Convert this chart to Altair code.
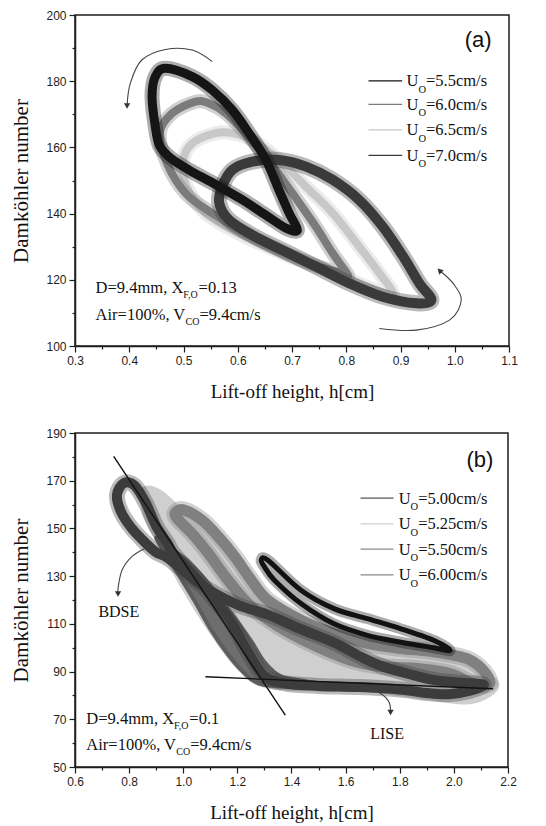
import altair as alt
import pandas as pd

# ======================= Panel (a) data =======================
A_LABELS = ["=5.5cm/s", "=6.0cm/s", "=6.5cm/s", "=7.0cm/s"]
A_COLORS = ["#151515", "#7b7b7b", "#c8c8c8", "#3a3a3a"]

a55_x = [0.467, 0.516, 0.553, 0.590, 0.621, 0.652, 0.676, 0.695, 0.710,
         0.689, 0.652, 0.608, 0.559, 0.512, 0.476, 0.456, 0.448, 0.442, 0.448]
a55_y = [183.9, 181.4, 177.3, 171.3, 164.2, 156.2, 147.1, 140.1, 135.0,
         135.6, 139.5, 144.2, 148.8, 153.0, 156.8, 160.5, 166.3, 175.3, 181.4]

a60_x = [0.479, 0.522, 0.547, 0.578, 0.615, 0.652, 0.701, 0.744, 0.775, 0.803,
         0.793, 0.750, 0.689, 0.615, 0.553, 0.504, 0.470, 0.456]
a60_y = [170.3, 173.8, 173.3, 170.3, 164.2, 157.2, 146.1, 136.0, 128.0, 121.5,
         122.0, 124.0, 128.0, 134.0, 140.1, 146.1, 155.0, 164.2]

a65_x = [0.516, 0.559, 0.590, 0.627, 0.676, 0.726, 0.775, 0.824, 0.861, 0.886,
         0.855, 0.775, 0.682, 0.602, 0.541, 0.506, 0.500]
a65_y = [161.2, 164.3, 164.3, 162.2, 156.2, 148.1, 140.1, 130.0, 122.0, 115.9,
         116.9, 122.0, 128.0, 134.0, 140.1, 148.1, 156.2]

a70_x = [0.571, 0.590, 0.627, 0.676, 0.726, 0.775, 0.824, 0.867, 0.905, 0.935, 0.957,
         0.929, 0.867, 0.806, 0.744, 0.682, 0.627, 0.584, 0.566]
a70_y = [148.1, 153.2, 155.7, 156.2, 154.2, 150.2, 144.1, 136.1, 127.0, 118.9, 113.9,
         112.9, 114.9, 118.9, 124.0, 129.0, 133.5, 138.1, 143.1]

# rotation arrows (a)
a_arr1_x = [0.553, 0.516, 0.467, 0.423, 0.402, 0.396]
a_arr1_y = [185.9, 189.4, 189.6, 186.4, 179.4, 172.5]
a_arr2_x = [0.861, 0.929, 0.991, 1.012, 0.997, 0.972]
a_arr2_y = [105.3, 104.8, 107.9, 113.9, 118.9, 122.8]

# ======================= Panel (b) data =======================
B_LABELS = ["=5.00cm/s", "=5.25cm/s", "=5.50cm/s", "=6.00cm/s"]
B_COLORS = ["#121212", "#cfcfcf", "#808080", "#3c3c3c"]

b500_x = [1.288, 1.313, 1.435, 1.557, 1.680, 1.802, 1.925, 1.986,
          1.925, 1.800, 1.680, 1.557, 1.435, 1.337, 1.300]
b500_y = [136.7, 136.7, 124.1, 116.4, 112.2, 108.0, 103.1, 98.9,
          100.0, 102.4, 105.2, 110.0, 118.5, 128.3, 133.9]

b525_x = [0.86, 0.92, 1.00, 1.10, 1.20, 1.30, 1.45, 1.60, 1.80, 2.00, 2.10, 2.16,
          2.13, 2.05, 1.90, 1.70, 1.50, 1.30, 1.20, 1.10, 1.00, 0.92, 0.86, 0.85]
b525_y = [167.0, 165.0, 157.0, 150.0, 138.0, 122.0, 111.0, 104.0, 99.0, 96.0, 91.0, 85.0,
          80.0, 77.0, 79.0, 82.0, 82.5, 84.0, 92.0, 107.0, 125.0, 142.0, 155.0, 163.0]

b550_x = [0.970, 1.000, 1.068, 1.129, 1.190, 1.251, 1.312, 1.435, 1.557, 1.680, 1.802, 1.925,
          2.047, 2.108, 2.132, 2.071, 1.986, 1.863, 1.741, 1.618, 1.496, 1.374, 1.251, 1.165,
          1.092, 1.031, 0.982]
b550_y = [156.4, 157.8, 153.6, 146.6, 138.2, 128.4, 120.0, 111.6, 106.0, 101.8, 99.7, 98.3,
          95.5, 90.6, 85.0, 85.0, 89.2, 91.3, 92.0, 94.8, 100.4, 107.4, 117.2, 128.4,
          139.6, 148.0, 153.6]

b600_x = [0.94, 0.90, 0.86, 0.82, 0.78, 0.755, 0.77, 0.81, 0.86, 0.90, 0.95, 1.07, 1.20, 1.31,
          1.43, 1.56, 1.66, 1.74, 1.85, 1.93, 2.03, 2.11, 2.06, 1.98, 1.90, 1.80, 1.65, 1.50,
          1.38, 1.30, 1.24, 1.17, 1.08, 1.00, 0.96]
b600_y = [144.0, 151.0, 161.0, 168.0, 169.0, 164.0, 157.0, 150.0, 144.0, 140.0, 137.0, 126.0,
          118.0, 114.0, 108.0, 102.0, 96.0, 92.0, 88.5, 86.4, 85.3, 84.5, 82.0, 80.5, 81.0,
          82.5, 83.5, 84.0, 85.0, 88.0, 98.0, 112.0, 125.0, 135.0, 140.0]

# dense hatched region of the U=6.00 series
b600m_x = [0.90, 0.97, 1.04, 1.10, 1.16, 1.22, 1.28, 1.40, 1.55,
           1.45, 1.36, 1.30, 1.25, 1.18, 1.10, 1.02, 0.96]
b600m_y = [146.0, 133.0, 120.0, 108.0, 98.0, 90.0, 85.0, 83.5, 83.5,
           86.0, 88.0, 94.0, 103.0, 114.0, 126.0, 136.0, 141.0]

# BDSE / LISE reference lines
bdse_x = [0.743, 1.377]
bdse_y = [180.2, 71.7]
lise_x = [1.082, 2.145]
lise_y = [87.8, 82.8]

# annotation arrows (b)
b_arr1_x = [0.86, 0.81, 0.774, 0.760, 0.759]
b_arr1_y = [141.7, 138.2, 132.6, 125.6, 122.5]
b_arr2_x = [1.68, 1.729, 1.760, 1.766]
b_arr2_y = [82.9, 80.8, 77.3, 72.8]

# ======================= layout constants =======================
SERIF = "Liberation Serif"
SANS = "Liberation Sans"
INK = "#1e1e1e"

A_W, A_H = 434, 331
B_W, B_H = 433, 334

TIMES_W = {"U": 722, "=": 564, ".": 250, "c": 444, "m": 778, "/": 278, "s": 389,
           "D": 722, ",": 250, " ": 250, "X": 722, "F": 556, "O": 722, "A": 722,
           "i": 278, "r": 333, "%": 833, "V": 722, "C": 667}


def text_w(s, size):
    return sum(TIMES_W.get(ch, 500) for ch in s) * size / 1000.0


def rich(x0, y0, parts, pxx, pxy):
    """parts: (text, size, dy_px, advance_fraction)"""
    recs = []
    dx = 0.0
    for text, size, dy, adv in parts:
        recs.append({"x": x0 + dx / pxx, "y": y0 - dy / pxy, "t": text, "s": size})
        dx += text_w(text, size) * adv
    return recs


def frame(xs, ys):
    return pd.DataFrame({"x": xs, "y": ys, "i": list(range(len(xs)))})


def tick_axis(values, major_test, fmt, title, is_x, title_pad):
    kw = dict(
        values=values,
        title=title,
        grid=False,
        labelExpr=f"({major_test}) ? format(datum.value, '{fmt}') : ''",
        tickSize={"condition": {"test": major_test, "value": 6}, "value": 3},
        tickColor=INK, tickWidth=1.2,
        domainColor=INK, domainWidth=1.5,
        labelFont=SANS, labelFontSize=12, labelColor=INK,
        titleFont=SERIF, titleFontWeight="normal", titleColor="#111",
        titlePadding=title_pad,
        labelPadding=3,
    )
    if is_x:
        kw["titleFontSize"] = 19
        kw["labelFlush"] = False
    else:
        kw["titleFontSize"] = 21
    return alt.Axis(**kw)


def panel(xdom, ydom, xvals, yvals, xtest, ytest, xfmt, w, h,
          loops, fills, lines, arrows, heads, legend_cfg, notes, tag, labels_txt):
    xsc = alt.Scale(domain=xdom, nice=False, zero=False)
    ysc = alt.Scale(domain=ydom, nice=False, zero=False)
    xax = tick_axis(xvals, xtest, xfmt, "Lift-off height, h[cm]", True, 16)
    yax = tick_axis(yvals, ytest, "d", "Damköhler number", False, 14)
    X = alt.X("x:Q", scale=xsc, axis=xax)
    Y = alt.Y("y:Q", scale=ysc, axis=yax)
    layers = []
    for df, color, op in fills:
        layers.append(alt.Chart(df).mark_line(
            interpolate="cardinal-closed", fill=color, stroke=color, strokeWidth=4,
            opacity=op, fillOpacity=op).encode(x=X, y=Y, order="i:Q"))
    for df, color, width in loops:
        # fuzzy halo imitating the overlapping scribbled cycles
        layers.append(alt.Chart(df).mark_line(
            interpolate="cardinal-closed", color=color, strokeWidth=width + 6, opacity=0.35,
            strokeJoin="round").encode(x=X, y=Y, order="i:Q"))
        layers.append(alt.Chart(df).mark_line(
            interpolate="cardinal-closed", color=color, strokeWidth=width,
            strokeJoin="round").encode(x=X, y=Y, order="i:Q"))
    for df in lines:
        layers.append(alt.Chart(df).mark_line(color="#111", strokeWidth=1.4).encode(
            x=X, y=Y, order="i:Q"))
    for df in arrows:
        layers.append(alt.Chart(df).mark_line(color="#444", strokeWidth=1.1,
                                              interpolate="cardinal").encode(
            x=X, y=Y, order="i:Q"))
    for df, shape, ang in heads:
        layers.append(alt.Chart(df).mark_point(shape=shape, angle=ang, filled=True,
                                               color="#333", size=40, opacity=1).encode(
            x=X, y=Y))
    # in-plot legend
    lx1, lx2, ux, ly, colors, labs, pxx, pxy = legend_cfg
    leg_rule = pd.DataFrame({"x": [lx1] * 4, "x2": [lx2] * 4, "y": ly, "c": colors})
    layers.append(alt.Chart(leg_rule).mark_rule(strokeWidth=1.2).encode(
        x=X, x2="x2:Q", y=Y, color=alt.Color("c:N", scale=None)))
    recs = []
    for yy, lab in zip(ly, labs):
        base = yy - 5.5 / pxy
        recs += rich(ux, base, [("U", 16.5, 0, 1.0), ("O", 10.5, 6.5, 1.0), (lab, 16.5, 0, 1.0)],
                     pxx, pxy)
    for (x0, y0, parts) in notes:
        recs += rich(x0, y0, parts, pxx, pxy)
    tdf = pd.DataFrame(recs)
    layers.append(alt.Chart(tdf).mark_text(font=SERIF, align="left", baseline="alphabetic",
                                           color="#111").encode(
        x=X, y=Y, text="t:N", size=alt.Size("s:Q", scale=None)))
    if labels_txt:
        ldf = pd.DataFrame([{"x": a, "y": b, "t": c} for a, b, c in labels_txt])
        layers.append(alt.Chart(ldf).mark_text(font=SERIF, fontSize=16, align="center",
                                               baseline="middle", color="#111").encode(
            x=X, y=Y, text="t:N"))
    tx, ty, tt = tag
    tagdf = pd.DataFrame({"x": [tx], "y": [ty], "t": [tt]})
    layers.append(alt.Chart(tagdf).mark_text(font=SANS, fontSize=22, align="center",
                                             baseline="middle", color="#111").encode(
        x=X, y=Y, text="t:N"))
    return alt.layer(*layers).properties(width=w, height=h)


# ---------------- build panel (a) ----------------
a_pxx, a_pxy = A_W / 0.8, A_H / 100.0
a_xvals = [round(0.3 + 0.05 * k, 2) for k in range(17)]
a_yvals = list(range(100, 201, 10))
a_xtest = "abs(datum.value*10 - round(datum.value*10)) < 0.001"
a_ytest = "datum.value % 20 == 0"

a_loops = [
    (frame(a65_x, a65_y), A_COLORS[2], 8),
    (frame(a60_x, a60_y), A_COLORS[1], 8),
    (frame(a70_x, a70_y), A_COLORS[3], 10),
    (frame(a55_x, a55_y), A_COLORS[0], 9),
]
a_arrows = [frame(a_arr1_x, a_arr1_y), frame(a_arr2_x, a_arr2_y)]
a_heads = [
    (frame(a_arr1_x[-1:], a_arr1_y[-1:]), "triangle-down", 0),
    (frame(a_arr2_x[-1:], a_arr2_y[-1:]), "triangle-up", 315),
]
a_leg = (0.841, 0.903, 0.911, [180.1, 173.0, 165.3, 157.6], A_COLORS, A_LABELS, a_pxx, a_pxy)
a_notes = [
    (0.338, 115.9, [("D=9.4mm, X", 16.5, 0, 1.0), ("F,O", 10, 5, 1.0), ("=0.13", 16.5, 0, 1.0)]),
    (0.338, 107.9, [("Air=100%, V", 16.5, 0, 1.0), ("CO", 10, 5, 1.0), ("=9.4cm/s", 16.5, 0, 1.0)]),
]
panel_a = panel([0.3, 1.1], [100, 200], a_xvals, a_yvals, a_xtest, a_ytest, ".1f", A_W, A_H,
                 a_loops, [], [], a_arrows, a_heads, a_leg, a_notes, (1.043, 192.4, "(a)"), [])

# ---------------- build panel (b) ----------------
b_pxx, b_pxy = B_W / 1.6, B_H / 140.0
b_xvals = [round(0.6 + 0.1 * k, 2) for k in range(17)]
b_yvals = list(range(50, 191, 10))
b_xtest = "abs(datum.value*5 - round(datum.value*5)) < 0.001"
b_ytest = "(datum.value - 50) % 20 == 0"

b_fills = [
    (frame(b525_x, b525_y), B_COLORS[1], 1.0),
    (frame(b600m_x, b600m_y), "#4a4a4a", 0.85),
]
b_loops = [
    (frame(b550_x, b550_y), B_COLORS[2], 11),
    (frame(b600_x, b600_y), B_COLORS[3], 10),
    (frame(b500_x, b500_y), B_COLORS[0], 5),
]
b_lines = [frame(bdse_x, bdse_y), frame(lise_x, lise_y)]
b_arrows = [frame(b_arr1_x, b_arr1_y), frame(b_arr2_x, b_arr2_y)]
b_heads = [
    (frame(b_arr1_x[-1:], b_arr1_y[-1:]), "triangle-down", 0),
    (frame(b_arr2_x[-1:], b_arr2_y[-1:]), "triangle-down", 0),
]
b_leg = (1.655, 1.777, 1.796, [162.7, 151.9, 141.3, 130.5], ["#555555", "#d0d0d0", "#8a8a8a", "#8a8a8a"],
         B_LABELS, b_pxx, b_pxy)
b_notes = [
    (0.642, 68.2, [("D=9.4mm, X", 16.5, 0, 1.0), ("F,O", 10, 5, 1.0), ("=0.1", 16.5, 0, 1.0)]),
    (0.642, 57.0, [("Air=100%, V", 16.5, 0, 1.0), ("CO", 10, 5, 1.0), ("=9.4cm/s", 16.5, 0, 1.0)]),
]
b_texts = [(0.762, 115.1, "BDSE"), (1.753, 64.0, "LISE")]
panel_b = panel([0.6, 2.2], [50, 190], b_xvals, b_yvals, b_xtest, b_ytest, ".1f", B_W, B_H,
                b_loops, b_fills, b_lines, b_arrows, b_heads, b_leg, b_notes, (2.096, 178.8, "(b)"),
                b_texts)

chart = alt.vconcat(panel_a, panel_b, spacing=87, bounds="flush").properties(
    padding={"left": 10, "top": 8, "right": 5, "bottom": 5},
    background="white",
).configure_view(stroke=INK, strokeWidth=1.5)

chart.save("out.html", embed_options={"renderer": "svg", "actions": False})
